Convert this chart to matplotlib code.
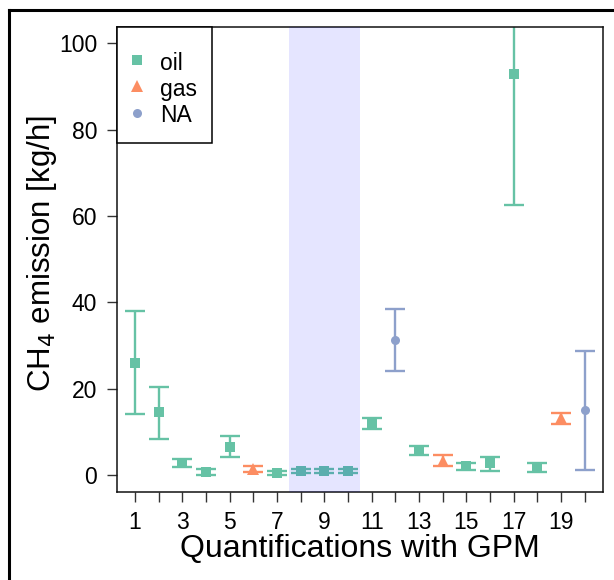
import matplotlib
matplotlib.use("Agg")
import matplotlib.pyplot as plt
from matplotlib.lines import Line2D
from matplotlib.patches import Rectangle
import numpy as np

plt.rcParams['font.family'] = ['Liberation Sans', 'DejaVu Sans']

# ---- data ----
quant = list(range(1, 21))
site_type = ['oil', 'oil', 'oil', 'oil', 'oil', 'gas', 'oil', 'oil', 'oil', 'oil',
             'oil', 'NA', 'oil', 'gas', 'oil', 'oil', 'oil', 'oil', 'gas', 'NA']
emission = [25.9, 14.5, 2.7, 0.7, 6.6, 1.5, 0.5, 0.9, 0.9, 0.9,
            12.0, 31.3, 5.7, 3.3, 2.1, 2.7, 93.0, 1.7, 13.1, 15.1]
lower = [14.1, 8.3, 1.9, 0.0, 4.2, 0.8, 0.1, 0.4, 0.4, 0.4,
         10.7, 24.1, 4.7, 2.1, 1.2, 1.0, 62.6, 0.8, 11.8, 1.1]
upper = [38.1, 20.3, 3.6, 1.5, 9.0, 2.1, 1.0, 1.4, 1.4, 1.4,
         13.2, 38.4, 6.8, 4.6, 2.9, 4.2, 125.0, 2.7, 14.4, 28.7]
shade_range = (7.5, 10.5)
categories = ['oil', 'gas', 'NA']
colors = {'oil': '#66C2A5', 'gas': '#FC8D62', 'NA': '#8DA0CB'}
markers = {'oil': 's', 'gas': '^', 'NA': 'o'}
msizes = {'oil': 7.5, 'gas': 8.5, 'NA': 6.5}

W, H = 614, 580
fig = plt.figure(figsize=(W/100, H/100), dpi=100)
AX_L, AX_R, AX_T, AX_B = 117, 602.7, 27, 492.3
ax = fig.add_axes([AX_L/W, 1-AX_B/H, (AX_R-AX_L)/W, (AX_B-AX_T)/H])

def ax_x(px):
    return (px-AX_L)/(AX_R-AX_L)

def ax_y(py):
    return 1-(py-AX_T)/(AX_B-AX_T)

x = np.array(quant)
y = np.array(emission)
lo = np.array(lower)
hi = np.array(upper)
t = np.array(site_type)

for cat in categories:
    m = t == cat
    ax.errorbar(x[m], y[m], yerr=[y[m]-lo[m], hi[m]-y[m]], fmt='none',
                ecolor=colors[cat], elinewidth=1.7, capsize=7, capthick=1.7, zorder=2)
    ax.plot(x[m], y[m], linestyle='none', marker=markers[cat], color=colors[cat],
            markersize=msizes[cat], markeredgewidth=0, label=cat, zorder=3)

ax.axvspan(*shade_range, color='blue', alpha=0.1, lw=0, zorder=4)

ax.set_xlim(0.24, 20.76)
ax.set_ylim(-4, 103.8)
ax.set_yticks([0, 20, 40, 60, 80, 100])
ax.set_xticks(quant)
ax.set_xticklabels([str(v) if v % 2 == 1 else '' for v in quant])
ax.tick_params(axis='both', labelsize=16.5, length=7.2, width=1, color='#333333', pad=6.3)
ax.tick_params(axis='y', pad=7)
for s in ax.spines.values():
    s.set_linewidth(1.1)
    s.set_color('#111111')

fig.text(360/W, 1-549/H, 'Quantifications with GPM', ha='center', va='center', fontsize=23)
fig.text(42/W, 1-254/H, 'CH$_4$ emission [kg/h]', ha='center', va='center',
         rotation=90, fontsize=22.5)

# legend frame + legend entries
ax.add_patch(Rectangle((0, ax_y(143)), ax_x(212), 1-ax_y(143), transform=ax.transAxes,
                       facecolor='white', edgecolor='black', lw=1.1, clip_on=False, zorder=5))
leg = ax.legend(loc='upper left', bbox_to_anchor=(ax_x(130.3), ax_y(51)),
                borderaxespad=0, borderpad=0, frameon=False,
                fontsize=16.5, handlelength=0.6, handletextpad=0.7, labelspacing=0.1,
                handleheight=1.1)
leg.set_zorder(6)

# outer frame (partial, as in reference)
fig.add_artist(Line2D([8.5/W, 8.5/W], [0, 1-10/H], color='black', lw=2.2,
                      transform=fig.transFigure))
fig.add_artist(Line2D([8.5/W, 1], [1-10/H, 1-10/H], color='black', lw=2.2,
                      transform=fig.transFigure))

fig.savefig('out.png', dpi=100)
